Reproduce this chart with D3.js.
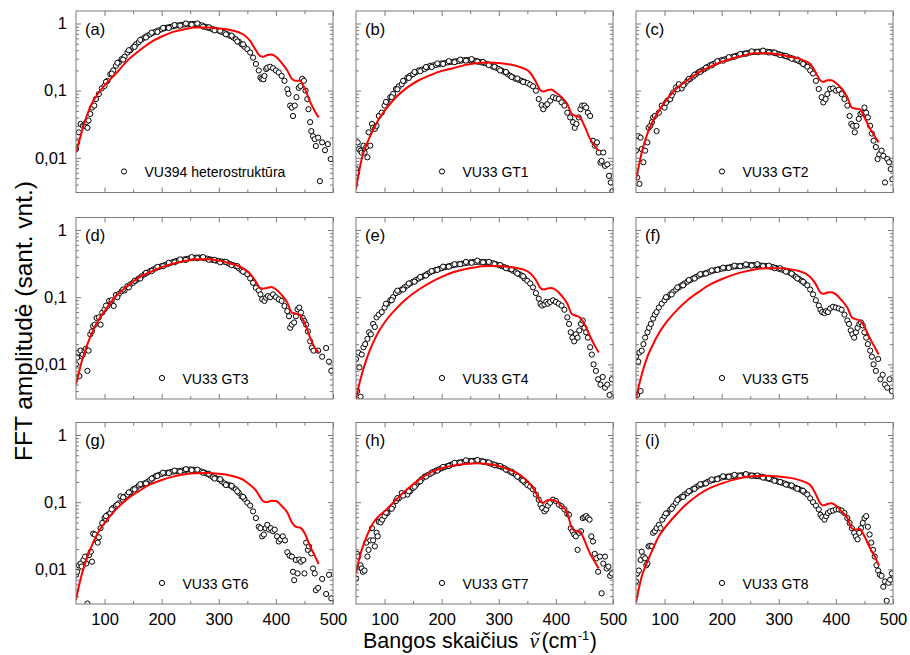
<!DOCTYPE html>
<html><head><meta charset="utf-8">
<script src="https://cdn.jsdelivr.net/npm/d3@7"></script>
<style>body{margin:0;background:#fff} svg{display:block;font-family:"Liberation Sans",Arial,sans-serif}</style>
</head><body><svg id="chart" width="910" height="655"></svg>
<script>
// ---------------- DATA ----------------
const panelLabels = ['(a)','(b)','(c)','(d)','(e)','(f)','(g)','(h)','(i)'];
const sampleNames = ['VU394 heterostruktūra','VU33 GT1','VU33 GT2','VU33 GT3','VU33 GT4','VU33 GT5','VU33 GT6','VU33 GT7','VU33 GT8'];
const xTicks = [100,200,300,400,500];
const xMinorTicks = [150,250,350,450];
const yTicks = [1,0.1,0.01];
const yTickLabels = ['1','0,1','0,01'];
const yMinorTicks = [0.004,0.005,0.006,0.007,0.008,0.009,0.02,0.03,0.04,0.05,0.06,0.07,0.08,0.09,0.2,0.3,0.4,0.5,0.6,0.7,0.8,0.9];

// measured FFT amplitude [wavenumber, amplitude]
const scatterA = [[50,0.0135],[52,0.017],[55,0.024],[58,0.032],[62,0.03],[65,0.03],[68,0.034],[70,0.028],[72,0.036],[75,0.045],[78,0.056],[82,0.06],[85,0.075],[90,0.089],[95,0.108],[100,0.118],[105,0.14],[110,0.176],[115,0.2],[120,0.235],[125,0.264],[130,0.295],[135,0.32],[140,0.37],[145,0.4],[150,0.44],[155,0.49],[160,0.53],[165,0.58],[170,0.62],[175,0.66],[180,0.69],[185,0.73],[190,0.76],[195,0.79],[200,0.82],[205,0.85],[210,0.87],[215,0.89],[220,0.91],[225,0.93],[230,0.94],[235,0.955],[240,0.966],[245,0.975],[250,0.98],[255,0.985],[260,0.98],[265,0.96],[270,0.94],[275,0.9],[280,0.87],[285,0.845],[290,0.82],[295,0.8],[300,0.78],[305,0.75],[310,0.72],[315,0.69],[320,0.655],[325,0.62],[330,0.58],[335,0.535],[340,0.49],[345,0.45],[350,0.415],[355,0.37],[360,0.31],[365,0.25],[370,0.2],[373,0.157],[375,0.15],[378,0.148],[380,0.166],[383,0.21],[385,0.22],[390,0.227],[395,0.216],[400,0.2],[405,0.187],[410,0.166],[415,0.14],[420,0.105],[422,0.09],[425,0.06],[428,0.056],[430,0.042],[433,0.06],[436,0.08],[440,0.11],[443,0.117],[446,0.15],[449,0.14],[452,0.1],[455,0.075],[457,0.053],[460,0.034],[462,0.025],[465,0.021],[468,0.019],[470,0.015],[474,0.02],[477,0.0045],[481,0.017],[486,0.013],[491,0.016],[496,0.0096],
  [102.5,0.135],[112.5,0.18],[122.5,0.26],[132.5,0.29],[142.5,0.4],[152.5,0.45],[162.5,0.57],[172.5,0.62],[182.5,0.73],[192.5,0.75],[202.5,0.86],[212.5,0.86],[222.5,0.95],[232.5,0.93],[242.5,1.0],[252.5,0.96],[262.5,1.0],[272.5,0.9],[282.5,0.88],[292.5,0.79],[302.5,0.78],[312.5,0.69],[322.5,0.66],[332.5,0.54],[342.5,0.49]];
const scatterB = [[50,0.0068],[52,0.006],[53,0.017],[55,0.0135],[58,0.0128],[60,0.012],[63,0.0152],[65,0.012],[68,0.0145],[70,0.0102],[72,0.024],[75,0.0152],[78,0.032],[80,0.028],[83,0.027],[86,0.03],[90,0.042],[95,0.047],[100,0.06],[105,0.067],[110,0.08],[115,0.089],[120,0.106],[125,0.116],[130,0.125],[135,0.14],[140,0.157],[145,0.167],[150,0.176],[155,0.188],[160,0.2],[165,0.205],[170,0.21],[175,0.222],[180,0.235],[185,0.238],[190,0.242],[195,0.248],[200,0.254],[205,0.258],[210,0.263],[215,0.267],[220,0.27],[225,0.274],[230,0.277],[235,0.28],[240,0.285],[245,0.287],[250,0.285],[255,0.282],[260,0.277],[265,0.27],[270,0.263],[275,0.257],[280,0.25],[285,0.24],[290,0.228],[295,0.22],[300,0.21],[305,0.2],[310,0.19],[315,0.178],[320,0.167],[325,0.158],[330,0.15],[335,0.145],[340,0.14],[345,0.135],[350,0.13],[355,0.123],[360,0.116],[365,0.1],[370,0.075],[375,0.061],[378,0.053],[382,0.06],[385,0.063],[390,0.071],[395,0.08],[400,0.077],[405,0.075],[410,0.067],[415,0.06],[420,0.047],[425,0.04],[430,0.034],[433,0.028],[436,0.032],[440,0.04],[443,0.053],[446,0.06],[450,0.06],[453,0.056],[456,0.047],[460,0.042],[465,0.018],[468,0.0152],[472,0.017],[475,0.012],[478,0.0085],[480,0.009],[483,0.012],[486,0.0076],[490,0.008],[493,0.0054],[496,0.0043],[499,0.0032],
  [102.5,0.068],[112.5,0.08],[122.5,0.105],[132.5,0.14],[142.5,0.155],[152.5,0.19],[162.5,0.195],[172.5,0.225],[182.5,0.225],[192.5,0.255],[202.5,0.25],[212.5,0.275],[222.5,0.265],[232.5,0.29],[242.5,0.28],[252.5,0.295],[262.5,0.272],[272.5,0.268],[282.5,0.24],[292.5,0.228],[302.5,0.2],[312.5,0.19],[322.5,0.16],[332.5,0.152],[342.5,0.135]];
const scatterC = [[50,0.0128],[52,0.0051],[54,0.021],[56,0.0041],[58,0.02],[60,0.0135],[63,0.0086],[66,0.0128],[70,0.017],[72,0.028],[75,0.03],[78,0.034],[80,0.04],[83,0.042],[86,0.025],[90,0.047],[95,0.06],[100,0.056],[105,0.071],[110,0.075],[115,0.094],[120,0.112],[125,0.125],[130,0.108],[135,0.125],[140,0.14],[145,0.15],[150,0.162],[155,0.176],[160,0.19],[165,0.2],[170,0.21],[175,0.225],[180,0.24],[185,0.25],[190,0.263],[195,0.274],[200,0.285],[205,0.292],[210,0.3],[215,0.31],[220,0.32],[225,0.33],[230,0.34],[235,0.348],[240,0.357],[245,0.363],[250,0.37],[255,0.375],[260,0.38],[265,0.382],[270,0.383],[275,0.382],[280,0.38],[285,0.375],[290,0.37],[295,0.36],[300,0.35],[305,0.34],[310,0.33],[315,0.32],[320,0.31],[325,0.3],[330,0.288],[335,0.276],[340,0.263],[345,0.245],[350,0.227],[355,0.2],[360,0.18],[365,0.14],[370,0.106],[375,0.08],[378,0.067],[382,0.075],[385,0.089],[390,0.106],[395,0.108],[400,0.1],[405,0.103],[410,0.089],[415,0.075],[420,0.06],[424,0.042],[427,0.032],[430,0.03],[433,0.024],[436,0.03],[440,0.038],[443,0.045],[446,0.047],[450,0.056],[453,0.047],[456,0.04],[460,0.03],[463,0.023],[466,0.018],[470,0.0145],[473,0.0096],[476,0.0113],[480,0.0128],[483,0.0107],[486,0.0043],[490,0.0096],[493,0.0086],[496,0.0068],[499,0.0048],
  [102.5,0.066],[112.5,0.085],[122.5,0.105],[132.5,0.12],[142.5,0.15],[152.5,0.172],[162.5,0.19],[172.5,0.22],[182.5,0.238],[192.5,0.275],[202.5,0.28],[212.5,0.315],[222.5,0.32],[232.5,0.352],[242.5,0.355],[252.5,0.385],[262.5,0.375],[272.5,0.395],[282.5,0.37],[292.5,0.37],[302.5,0.34],[312.5,0.33],[322.5,0.3],[332.5,0.29],[342.5,0.25]];
const scatterD = [[50,0.01],[52,0.0126],[54,0.015],[56,0.0067],[58,0.016],[60,0.0133],[62,0.014],[65,0.016],[67,0.017],[70,0.008],[72,0.016],[75,0.028],[78,0.031],[80,0.037],[83,0.039],[86,0.049],[90,0.05],[93,0.039],[96,0.059],[100,0.066],[105,0.074],[108,0.088],[112,0.083],[116,0.074],[120,0.108],[125,0.112],[130,0.123],[135,0.126],[140,0.146],[145,0.155],[150,0.164],[155,0.177],[160,0.19],[165,0.205],[170,0.22],[175,0.232],[180,0.245],[185,0.258],[190,0.27],[195,0.28],[200,0.29],[205,0.3],[210,0.31],[215,0.322],[220,0.334],[225,0.344],[230,0.353],[235,0.36],[240,0.366],[245,0.373],[250,0.38],[255,0.384],[260,0.388],[265,0.39],[270,0.388],[275,0.38],[280,0.374],[285,0.365],[290,0.357],[295,0.35],[300,0.346],[305,0.34],[310,0.337],[315,0.325],[320,0.31],[325,0.3],[330,0.29],[335,0.27],[340,0.25],[345,0.237],[350,0.22],[355,0.19],[360,0.164],[365,0.138],[370,0.126],[373,0.11],[376,0.093],[380,0.088],[383,0.098],[386,0.104],[390,0.1],[395,0.11],[400,0.1],[405,0.093],[410,0.088],[415,0.074],[420,0.062],[423,0.052],[425,0.035],[428,0.039],[432,0.042],[435,0.052],[438,0.066],[441,0.07],[444,0.059],[447,0.049],[450,0.044],[453,0.039],[456,0.031],[460,0.022],[463,0.0177],[466,0.016],[474,0.016],[481,0.013],[488,0.0175],[493,0.011],[497,0.008],
  [102.5,0.075],[112.5,0.09],[122.5,0.1],[132.5,0.13],[142.5,0.14],[152.5,0.175],[162.5,0.19],[172.5,0.23],[182.5,0.245],[192.5,0.282],[202.5,0.29],[212.5,0.325],[222.5,0.33],[232.5,0.365],[242.5,0.36],[252.5,0.395],[262.5,0.38],[272.5,0.395],[282.5,0.36],[292.5,0.36],[302.5,0.33],[312.5,0.335],[322.5,0.3],[332.5,0.29],[342.5,0.24]];
const scatterE = [[50,0.012],[52,0.004],[54,0.015],[56,0.009],[58,0.0033],[60,0.014],[63,0.018],[66,0.02],[70,0.024],[73,0.03],[76,0.028],[80,0.04],[83,0.036],[86,0.05],[90,0.055],[95,0.06],[100,0.07],[105,0.08],[110,0.09],[115,0.1],[120,0.115],[125,0.12],[130,0.13],[135,0.14],[140,0.15],[145,0.16],[150,0.17],[155,0.18],[160,0.19],[165,0.2],[170,0.21],[175,0.222],[180,0.235],[185,0.245],[190,0.255],[195,0.262],[200,0.27],[205,0.278],[210,0.285],[215,0.292],[220,0.3],[225,0.305],[230,0.31],[235,0.315],[240,0.32],[245,0.325],[250,0.33],[255,0.333],[260,0.335],[265,0.336],[270,0.335],[275,0.333],[280,0.33],[285,0.325],[290,0.32],[295,0.31],[300,0.3],[305,0.29],[310,0.28],[315,0.27],[320,0.26],[325,0.248],[330,0.235],[335,0.222],[340,0.21],[345,0.19],[350,0.175],[355,0.16],[360,0.14],[365,0.115],[370,0.095],[373,0.08],[376,0.075],[380,0.078],[383,0.085],[386,0.08],[390,0.085],[395,0.09],[400,0.085],[405,0.08],[410,0.075],[415,0.065],[420,0.05],[423,0.04],[426,0.03],[429,0.025],[432,0.022],[435,0.028],[438,0.025],[441,0.032],[444,0.04],[447,0.045],[450,0.035],[453,0.03],[456,0.025],[460,0.018],[463,0.014],[466,0.01],[470,0.008],[474,0.006],[478,0.005],[482,0.0065],[486,0.0045],[490,0.005],[494,0.0035],[498,0.006],
  [102.5,0.08],[112.5,0.09],[122.5,0.125],[132.5,0.13],[142.5,0.16],[152.5,0.17],[162.5,0.2],[172.5,0.21],[182.5,0.245],[192.5,0.255],[202.5,0.285],[212.5,0.285],[222.5,0.31],[232.5,0.31],[242.5,0.335],[252.5,0.325],[262.5,0.35],[272.5,0.33],[282.5,0.335],[292.5,0.31],[302.5,0.3],[312.5,0.27],[322.5,0.26],[332.5,0.225],[342.5,0.205]];
const scatterF = [[50,0.013],[52,0.0035],[54,0.011],[56,0.015],[58,0.004],[60,0.016],[63,0.02],[66,0.025],[70,0.03],[73,0.035],[76,0.04],[80,0.048],[83,0.055],[86,0.06],[90,0.07],[95,0.08],[100,0.09],[105,0.1],[110,0.11],[115,0.12],[120,0.13],[125,0.14],[130,0.15],[135,0.16],[140,0.17],[145,0.18],[150,0.19],[155,0.2],[160,0.21],[165,0.218],[170,0.225],[175,0.232],[180,0.24],[185,0.248],[190,0.255],[195,0.26],[200,0.265],[205,0.27],[210,0.275],[215,0.28],[220,0.285],[225,0.288],[230,0.29],[235,0.293],[240,0.295],[245,0.298],[250,0.3],[255,0.3],[260,0.3],[265,0.298],[270,0.295],[275,0.292],[280,0.29],[285,0.285],[290,0.28],[295,0.272],[300,0.265],[305,0.258],[310,0.25],[315,0.24],[320,0.23],[325,0.215],[330,0.2],[335,0.188],[340,0.175],[345,0.162],[350,0.15],[355,0.13],[360,0.11],[365,0.09],[370,0.075],[373,0.065],[376,0.06],[380,0.058],[383,0.062],[386,0.06],[390,0.068],[395,0.072],[400,0.07],[405,0.068],[410,0.065],[415,0.055],[420,0.045],[423,0.04],[426,0.032],[429,0.028],[432,0.025],[435,0.03],[438,0.035],[441,0.04],[444,0.042],[447,0.038],[450,0.03],[453,0.025],[456,0.02],[460,0.016],[463,0.013],[466,0.01],[470,0.008],[474,0.012],[478,0.006],[482,0.007],[486,0.005],[490,0.0045],[494,0.006],[498,0.004],
  [102.5,0.1],[112.5,0.11],[122.5,0.14],[132.5,0.15],[142.5,0.18],[152.5,0.19],[162.5,0.22],[172.5,0.225],[182.5,0.25],[192.5,0.255],[202.5,0.275],[212.5,0.272],[222.5,0.295],[232.5,0.288],[242.5,0.308],[252.5,0.295],[262.5,0.31],[272.5,0.29],[282.5,0.295],[292.5,0.27],[302.5,0.27],[312.5,0.24],[322.5,0.225],[332.5,0.19],[342.5,0.17]];
const scatterG = [[50,0.0083],[52,0.0092],[55,0.0115],[58,0.0122],[60,0.011],[63,0.0138],[66,0.0155],[68,0.0122],[70,0.0031],[73,0.0163],[76,0.0183],[78,0.013],[80,0.034],[83,0.033],[86,0.027],[88,0.025],[90,0.03],[93,0.041],[96,0.049],[100,0.058],[103,0.055],[106,0.065],[110,0.069],[115,0.082],[120,0.089],[125,0.096],[128,0.122],[132,0.109],[136,0.12],[140,0.13],[145,0.14],[150,0.155],[155,0.163],[160,0.177],[165,0.183],[170,0.19],[175,0.2],[180,0.215],[185,0.23],[190,0.245],[195,0.255],[200,0.263],[205,0.27],[210,0.275],[215,0.28],[220,0.285],[225,0.288],[230,0.29],[235,0.295],[240,0.3],[245,0.305],[250,0.307],[255,0.305],[260,0.3],[265,0.293],[270,0.285],[275,0.275],[280,0.263],[285,0.25],[290,0.235],[295,0.228],[300,0.22],[305,0.205],[310,0.19],[315,0.183],[320,0.177],[325,0.165],[330,0.155],[335,0.138],[340,0.122],[345,0.112],[350,0.098],[355,0.089],[360,0.073],[365,0.058],[370,0.043],[373,0.041],[376,0.031],[379,0.033],[382,0.041],[385,0.046],[388,0.039],[391,0.041],[395,0.037],[398,0.039],[402,0.031],[405,0.026],[408,0.028],[412,0.031],[416,0.027],[420,0.018],[424,0.016],[428,0.0155],[430,0.0092],[432,0.0069],[435,0.0138],[438,0.0087],[441,0.014],[444,0.013],[448,0.0138],[450,0.0087],[453,0.025],[456,0.0195],[458,0.022],[462,0.0173],[465,0.0103],[468,0.0087],[470,0.0049],[474,0.0053],[481,0.0072],[488,0.0043],[493,0.0083],[497,0.0037],
  [102.5,0.062],[112.5,0.078],[122.5,0.092],[132.5,0.118],[142.5,0.14],[152.5,0.155],[162.5,0.185],[172.5,0.19],[182.5,0.225],[192.5,0.245],[202.5,0.275],[212.5,0.27],[222.5,0.295],[232.5,0.285],[242.5,0.31],[252.5,0.3],[262.5,0.305],[272.5,0.275],[282.5,0.265],[292.5,0.225],[302.5,0.22],[312.5,0.18],[322.5,0.175],[332.5,0.145],[342.5,0.12]];
const scatterH = [[50,0.0073],[52,0.017],[54,0.0155],[56,0.011],[58,0.0115],[60,0.0103],[62,0.0092],[65,0.0096],[68,0.025],[70,0.0155],[72,0.0195],[75,0.027],[78,0.041],[80,0.027],[83,0.022],[86,0.035],[88,0.031],[90,0.051],[93,0.05],[96,0.055],[100,0.062],[105,0.069],[110,0.08],[115,0.087],[120,0.104],[125,0.114],[130,0.137],[135,0.13],[140,0.13],[145,0.146],[150,0.163],[155,0.18],[160,0.2],[165,0.22],[170,0.24],[175,0.252],[180,0.263],[185,0.28],[190,0.295],[195,0.308],[200,0.32],[205,0.333],[210,0.345],[215,0.358],[220,0.37],[225,0.38],[230,0.388],[235,0.395],[240,0.4],[245,0.405],[250,0.41],[255,0.413],[260,0.415],[265,0.413],[270,0.41],[275,0.4],[280,0.39],[285,0.378],[290,0.366],[295,0.355],[300,0.345],[305,0.333],[310,0.32],[315,0.3],[320,0.285],[325,0.27],[330,0.254],[335,0.235],[340,0.215],[345,0.198],[350,0.18],[355,0.17],[360,0.155],[365,0.13],[370,0.109],[373,0.092],[376,0.082],[380,0.073],[383,0.078],[386,0.089],[390,0.098],[395,0.109],[400,0.104],[405,0.092],[410,0.087],[415,0.078],[420,0.067],[423,0.065],[426,0.041],[429,0.037],[432,0.033],[435,0.031],[438,0.0195],[441,0.035],[444,0.037],[447,0.058],[450,0.06],[453,0.062],[456,0.058],[459,0.055],[462,0.031],[465,0.026],[468,0.017],[471,0.0146],[474,0.0092],[477,0.0155],[480,0.0044],[483,0.0122],[486,0.0155],[489,0.0103],[492,0.011],[495,0.008],[498,0.0087],
  [102.5,0.07],[112.5,0.08],[122.5,0.115],[132.5,0.125],[142.5,0.145],[152.5,0.17],[162.5,0.205],[172.5,0.24],[182.5,0.275],[192.5,0.295],[202.5,0.335],[212.5,0.345],[222.5,0.385],[232.5,0.385],[242.5,0.42],[252.5,0.405],[262.5,0.425],[272.5,0.4],[282.5,0.39],[292.5,0.355],[302.5,0.345],[312.5,0.305],[322.5,0.285],[332.5,0.24],[342.5,0.21]];
const scatterI = [[50,0.0066],[52,0.0087],[55,0.0096],[58,0.0138],[60,0.0183],[63,0.0155],[66,0.0146],[68,0.0115],[70,0.0122],[72,0.022],[75,0.0225],[78,0.022],[80,0.035],[83,0.037],[86,0.041],[90,0.046],[93,0.041],[96,0.055],[100,0.062],[105,0.069],[110,0.078],[115,0.087],[120,0.098],[125,0.112],[130,0.12],[135,0.13],[140,0.137],[145,0.147],[150,0.157],[155,0.167],[160,0.177],[165,0.183],[170,0.19],[175,0.2],[180,0.208],[185,0.214],[190,0.22],[195,0.227],[200,0.233],[205,0.237],[210,0.24],[215,0.243],[220,0.245],[225,0.248],[230,0.25],[235,0.252],[240,0.254],[245,0.252],[250,0.25],[255,0.248],[260,0.245],[265,0.243],[270,0.24],[275,0.233],[280,0.226],[285,0.22],[290,0.215],[295,0.208],[300,0.2],[305,0.195],[310,0.19],[315,0.183],[320,0.177],[325,0.17],[330,0.163],[335,0.157],[340,0.15],[345,0.14],[350,0.13],[355,0.114],[360,0.1],[365,0.089],[370,0.078],[373,0.065],[376,0.06],[380,0.055],[383,0.062],[386,0.069],[390,0.073],[395,0.075],[400,0.078],[405,0.078],[410,0.075],[415,0.069],[420,0.058],[424,0.049],[428,0.041],[432,0.035],[435,0.031],[438,0.028],[441,0.035],[444,0.041],[447,0.049],[450,0.058],[453,0.062],[456,0.043],[459,0.033],[462,0.025],[465,0.0195],[468,0.0155],[471,0.0115],[474,0.0096],[477,0.0083],[480,0.008],[483,0.0055],[486,0.0066],[489,0.0034],[492,0.0063],[495,0.007],[498,0.0087],
  [102.5,0.068],[112.5,0.08],[122.5,0.108],[132.5,0.12],[142.5,0.146],[152.5,0.158],[162.5,0.185],[172.5,0.19],[182.5,0.218],[192.5,0.22],[202.5,0.243],[212.5,0.238],[222.5,0.255],[232.5,0.245],[242.5,0.262],[252.5,0.248],[262.5,0.25],[272.5,0.232],[282.5,0.228],[292.5,0.208],[302.5,0.2],[312.5,0.183],[322.5,0.178],[332.5,0.158],[342.5,0.148]];

// model fit curves [wavenumber, amplitude]
const fitA = [[50,0.012],[55,0.017],[60,0.024],[70,0.045],[80,0.07],[90,0.094],[100,0.12],[120,0.18],[140,0.28],[160,0.39],[180,0.52],[200,0.64],[220,0.75],[240,0.82],[260,0.87],[280,0.87],[300,0.84],[320,0.8],[335,0.74],[345,0.67],[355,0.55],[365,0.4],[372,0.33],[378,0.32],[385,0.34],[392,0.345],[400,0.32],[410,0.26],[420,0.2],[428,0.15],[435,0.14],[442,0.14],[450,0.11],[460,0.068],[468,0.05],[475,0.04]];
const fitB = [[50,0.0034],[55,0.006],[60,0.0096],[70,0.017],[80,0.026],[90,0.038],[100,0.05],[120,0.08],[140,0.112],[160,0.143],[180,0.17],[200,0.197],[220,0.216],[240,0.24],[260,0.257],[280,0.263],[300,0.258],[320,0.245],[335,0.228],[345,0.212],[355,0.185],[365,0.135],[372,0.104],[378,0.097],[385,0.102],[392,0.104],[400,0.094],[410,0.08],[420,0.063],[428,0.045],[435,0.042],[442,0.04],[450,0.03],[460,0.019],[468,0.015],[475,0.0127]];
const fitC = [[50,0.0048],[55,0.0076],[60,0.012],[70,0.023],[80,0.036],[90,0.05],[100,0.067],[120,0.106],[140,0.143],[160,0.187],[180,0.227],[200,0.27],[220,0.305],[240,0.338],[260,0.36],[280,0.36],[300,0.345],[320,0.32],[335,0.3],[345,0.278],[355,0.25],[365,0.185],[372,0.145],[378,0.135],[385,0.143],[392,0.143],[400,0.13],[410,0.108],[420,0.08],[428,0.056],[435,0.054],[442,0.053],[450,0.04],[460,0.027],[468,0.021],[475,0.017]];
const fitD = [[50,0.005],[55,0.0075],[60,0.011],[70,0.02],[80,0.032],[90,0.047],[100,0.062],[120,0.104],[140,0.146],[160,0.195],[180,0.237],[200,0.28],[220,0.316],[240,0.345],[260,0.366],[280,0.366],[300,0.35],[320,0.318],[335,0.29],[345,0.262],[355,0.222],[365,0.17],[372,0.138],[378,0.134],[385,0.138],[392,0.142],[400,0.131],[410,0.108],[420,0.083],[428,0.059],[435,0.057],[442,0.054],[450,0.042],[460,0.025],[468,0.0177],[475,0.015]];
const fitE = [[50,0.003],[55,0.0048],[60,0.007],[70,0.013],[80,0.021],[90,0.031],[100,0.042],[120,0.067],[140,0.097],[160,0.13],[180,0.165],[200,0.2],[220,0.235],[240,0.26],[260,0.28],[280,0.29],[300,0.29],[320,0.28],[335,0.268],[345,0.255],[355,0.228],[365,0.18],[372,0.14],[378,0.13],[385,0.135],[392,0.137],[400,0.128],[410,0.105],[420,0.08],[428,0.056],[435,0.053],[442,0.05],[450,0.04],[460,0.026],[468,0.019],[475,0.015]];
const fitF = [[50,0.003],[55,0.0048],[60,0.007],[70,0.013],[80,0.02],[90,0.029],[100,0.039],[120,0.062],[140,0.09],[160,0.12],[180,0.155],[200,0.185],[220,0.215],[240,0.24],[260,0.26],[280,0.27],[300,0.27],[320,0.26],[335,0.245],[345,0.228],[355,0.2],[365,0.155],[372,0.12],[378,0.112],[385,0.117],[392,0.118],[400,0.11],[410,0.09],[420,0.07],[428,0.05],[435,0.047],[442,0.045],[450,0.036],[460,0.024],[468,0.018],[475,0.014]];
const fitG = [[50,0.0035],[55,0.0056],[60,0.0083],[70,0.0155],[80,0.025],[90,0.037],[100,0.049],[120,0.078],[140,0.112],[160,0.146],[180,0.184],[200,0.214],[220,0.24],[240,0.26],[260,0.27],[280,0.272],[300,0.265],[320,0.25],[335,0.23],[345,0.21],[355,0.18],[365,0.15],[372,0.12],[378,0.103],[385,0.1],[392,0.105],[400,0.104],[410,0.088],[420,0.07],[428,0.05],[435,0.043],[442,0.042],[450,0.035],[460,0.022],[468,0.016],[475,0.012]];
const fitH = [[50,0.0087],[55,0.0138],[60,0.0195],[70,0.033],[80,0.049],[90,0.062],[100,0.073],[120,0.109],[140,0.157],[160,0.215],[180,0.275],[200,0.32],[220,0.35],[240,0.37],[260,0.38],[280,0.37],[300,0.345],[320,0.3],[335,0.263],[345,0.226],[355,0.185],[365,0.137],[372,0.104],[378,0.098],[385,0.107],[392,0.109],[400,0.104],[410,0.087],[420,0.069],[428,0.041],[435,0.037],[442,0.037],[450,0.027],[460,0.017],[468,0.013],[475,0.0103]];
const fitI = [[50,0.0032],[55,0.0052],[60,0.0078],[70,0.013],[80,0.0205],[90,0.031],[100,0.041],[120,0.065],[140,0.096],[160,0.13],[180,0.163],[200,0.19],[220,0.215],[240,0.235],[260,0.245],[280,0.248],[300,0.242],[320,0.23],[335,0.215],[345,0.2],[355,0.18],[365,0.13],[372,0.098],[378,0.089],[385,0.094],[392,0.096],[400,0.089],[410,0.073],[420,0.058],[428,0.041],[435,0.039],[442,0.04],[450,0.031],[460,0.0205],[468,0.0155],[475,0.0115]];

const scatterSets = [scatterA,scatterB,scatterC,scatterD,scatterE,scatterF,scatterG,scatterH,scatterI];
const fitSets = [fitA,fitB,fitC,fitD,fitE,fitF,fitG,fitH,fitI];

// ---------------- LAYOUT ----------------
const svg = d3.select('#chart');
const W = 257, H = 181.5;
const colLeft = [76, 356, 636];
const rowTop = [11, 217.5, 422.5];
const frameColor = '#7a7a7a';

const x = d3.scaleLinear().domain([50, 500]).range([0, W]);
const y = d3.scaleLog().domain([0.00305, 1.535]).range([H, 0]);
const line = d3.line().x(d => x(d[0])).y(d => y(d[1])).curve(d3.curveMonotoneX);

function styleAxis(sel, showLabels) {
  sel.select('.domain').remove();
  sel.selectAll('.tick line').attr('stroke', frameColor).attr('stroke-width', 1);
  sel.selectAll('.tick text').attr('fill', '#000').style('font-size', '16.5px')
     .style('font-family', '"Liberation Sans", Arial, sans-serif');
  if (!showLabels) sel.selectAll('.tick text').remove();
}

panelLabels.forEach((lab, i) => {
  const c = i % 3, r = Math.floor(i / 3);
  const g = svg.append('g').attr('transform', `translate(${colLeft[c]},${rowTop[r]})`);

  g.append('clipPath').attr('id', 'clip' + i)
    .append('rect').attr('width', W).attr('height', H);

  const bx = g.append('g').attr('transform', `translate(0,${H})`)
    .call(d3.axisBottom(x).tickValues(xTicks).tickSize(-5).tickPadding(9).tickFormat(d3.format('d')));
  styleAxis(bx, r === 2);
  styleAxis(g.append('g').attr('transform', `translate(0,${H})`)
    .call(d3.axisBottom(x).tickValues(xMinorTicks).tickSize(-3)), false);
  styleAxis(g.append('g').call(d3.axisTop(x).tickValues(xTicks).tickSize(-5)), false);
  styleAxis(g.append('g').call(d3.axisTop(x).tickValues(xMinorTicks).tickSize(-3)), false);

  const ly = g.append('g')
    .call(d3.axisLeft(y).tickValues(yTicks).tickSize(-5).tickPadding(9)
      .tickFormat(d => yTickLabels[yTicks.indexOf(d)]));
  styleAxis(ly, c === 0);
  styleAxis(g.append('g').call(d3.axisLeft(y).tickValues(yMinorTicks).tickSize(-3)), false);
  styleAxis(g.append('g').attr('transform', `translate(${W},0)`)
    .call(d3.axisRight(y).tickValues(yTicks).tickSize(-5)), false);
  styleAxis(g.append('g').attr('transform', `translate(${W},0)`)
    .call(d3.axisRight(y).tickValues(yMinorTicks).tickSize(-3)), false);

  const plot = g.append('g').attr('clip-path', `url(#clip${i})`);
  plot.selectAll('circle').data(scatterSets[i]).join('circle')
    .attr('cx', d => x(d[0])).attr('cy', d => y(d[1])).attr('r', 2.6)
    .attr('fill', '#fff').attr('stroke', '#000').attr('stroke-width', 1);
  plot.append('path').datum(fitSets[i]).attr('d', line)
    .attr('fill', 'none').attr('stroke', '#ff0000').attr('stroke-width', 2);

  g.append('rect').attr('width', W).attr('height', H)
    .attr('fill', 'none').attr('stroke', frameColor).attr('stroke-width', 1);

  g.append('text').attr('x', 9).attr('y', 23.5).text(lab)
    .style('font-size', '16.5px').attr('fill', '#000');

  const lx = (i === 0) ? 48 : 86;
  g.append('circle').attr('cx', lx).attr('cy', 160.5).attr('r', 2.6)
    .attr('fill', '#fff').attr('stroke', '#000').attr('stroke-width', 1);
  g.append('text').attr('x', lx + 20.5).attr('y', 166).text(sampleNames[i])
    .style('font-size', '14px').attr('fill', '#000');
});

// x axis title, built piece by piece; the tilde accent over the italic nu is a small stroke
const serif = '"Liberation Serif", "Times New Roman", serif';
const fs = 21.5, base = 648;
let cx = 363;
const xt = svg.append('g').attr('fill', '#000');
const p1 = xt.append('text').attr('x', cx).attr('y', base).style('font-size', fs + 'px').text('Bangos skaičius');
cx += p1.node().getComputedTextLength() + 11;
const nu = xt.append('text').attr('x', cx).attr('y', base).style('font-size', fs + 'px')
  .style('font-family', serif).style('font-style', 'italic').text('ν');
const nuW = nu.node().getComputedTextLength();
const tx = cx + nuW / 2 + 1.8, ty = base - 14.5;
xt.append('path')
  .attr('d', `M${tx - 4},${ty + 1.2} C${tx - 2.8},${ty - 1.2} ${tx - 1.2},${ty - 1.2} ${tx},${ty} S${tx + 2.8},${ty + 1.2} ${tx + 4},${ty - 1.2}`)
  .attr('fill', 'none').attr('stroke', '#000').attr('stroke-width', 1.1);
cx += nuW + 2.5;
const p2 = xt.append('text').attr('x', cx).attr('y', base).style('font-size', fs + 'px').text('(cm');
cx += p2.node().getComputedTextLength() + 0.5;
const p3 = xt.append('text').attr('x', cx).attr('y', base - 8.5).style('font-size', '13px').text('-1');
cx += p3.node().getComputedTextLength() + 0.5;
xt.append('text').attr('x', cx).attr('y', base).style('font-size', fs + 'px').text(')');

svg.append('text').attr('transform', 'translate(31.5,321) rotate(-90)')
  .attr('text-anchor', 'middle').style('font-size', '24.5px').attr('fill', '#000')
  .text('FFT amplitudė (sant. vnt.)');
</script>
</body></html>
